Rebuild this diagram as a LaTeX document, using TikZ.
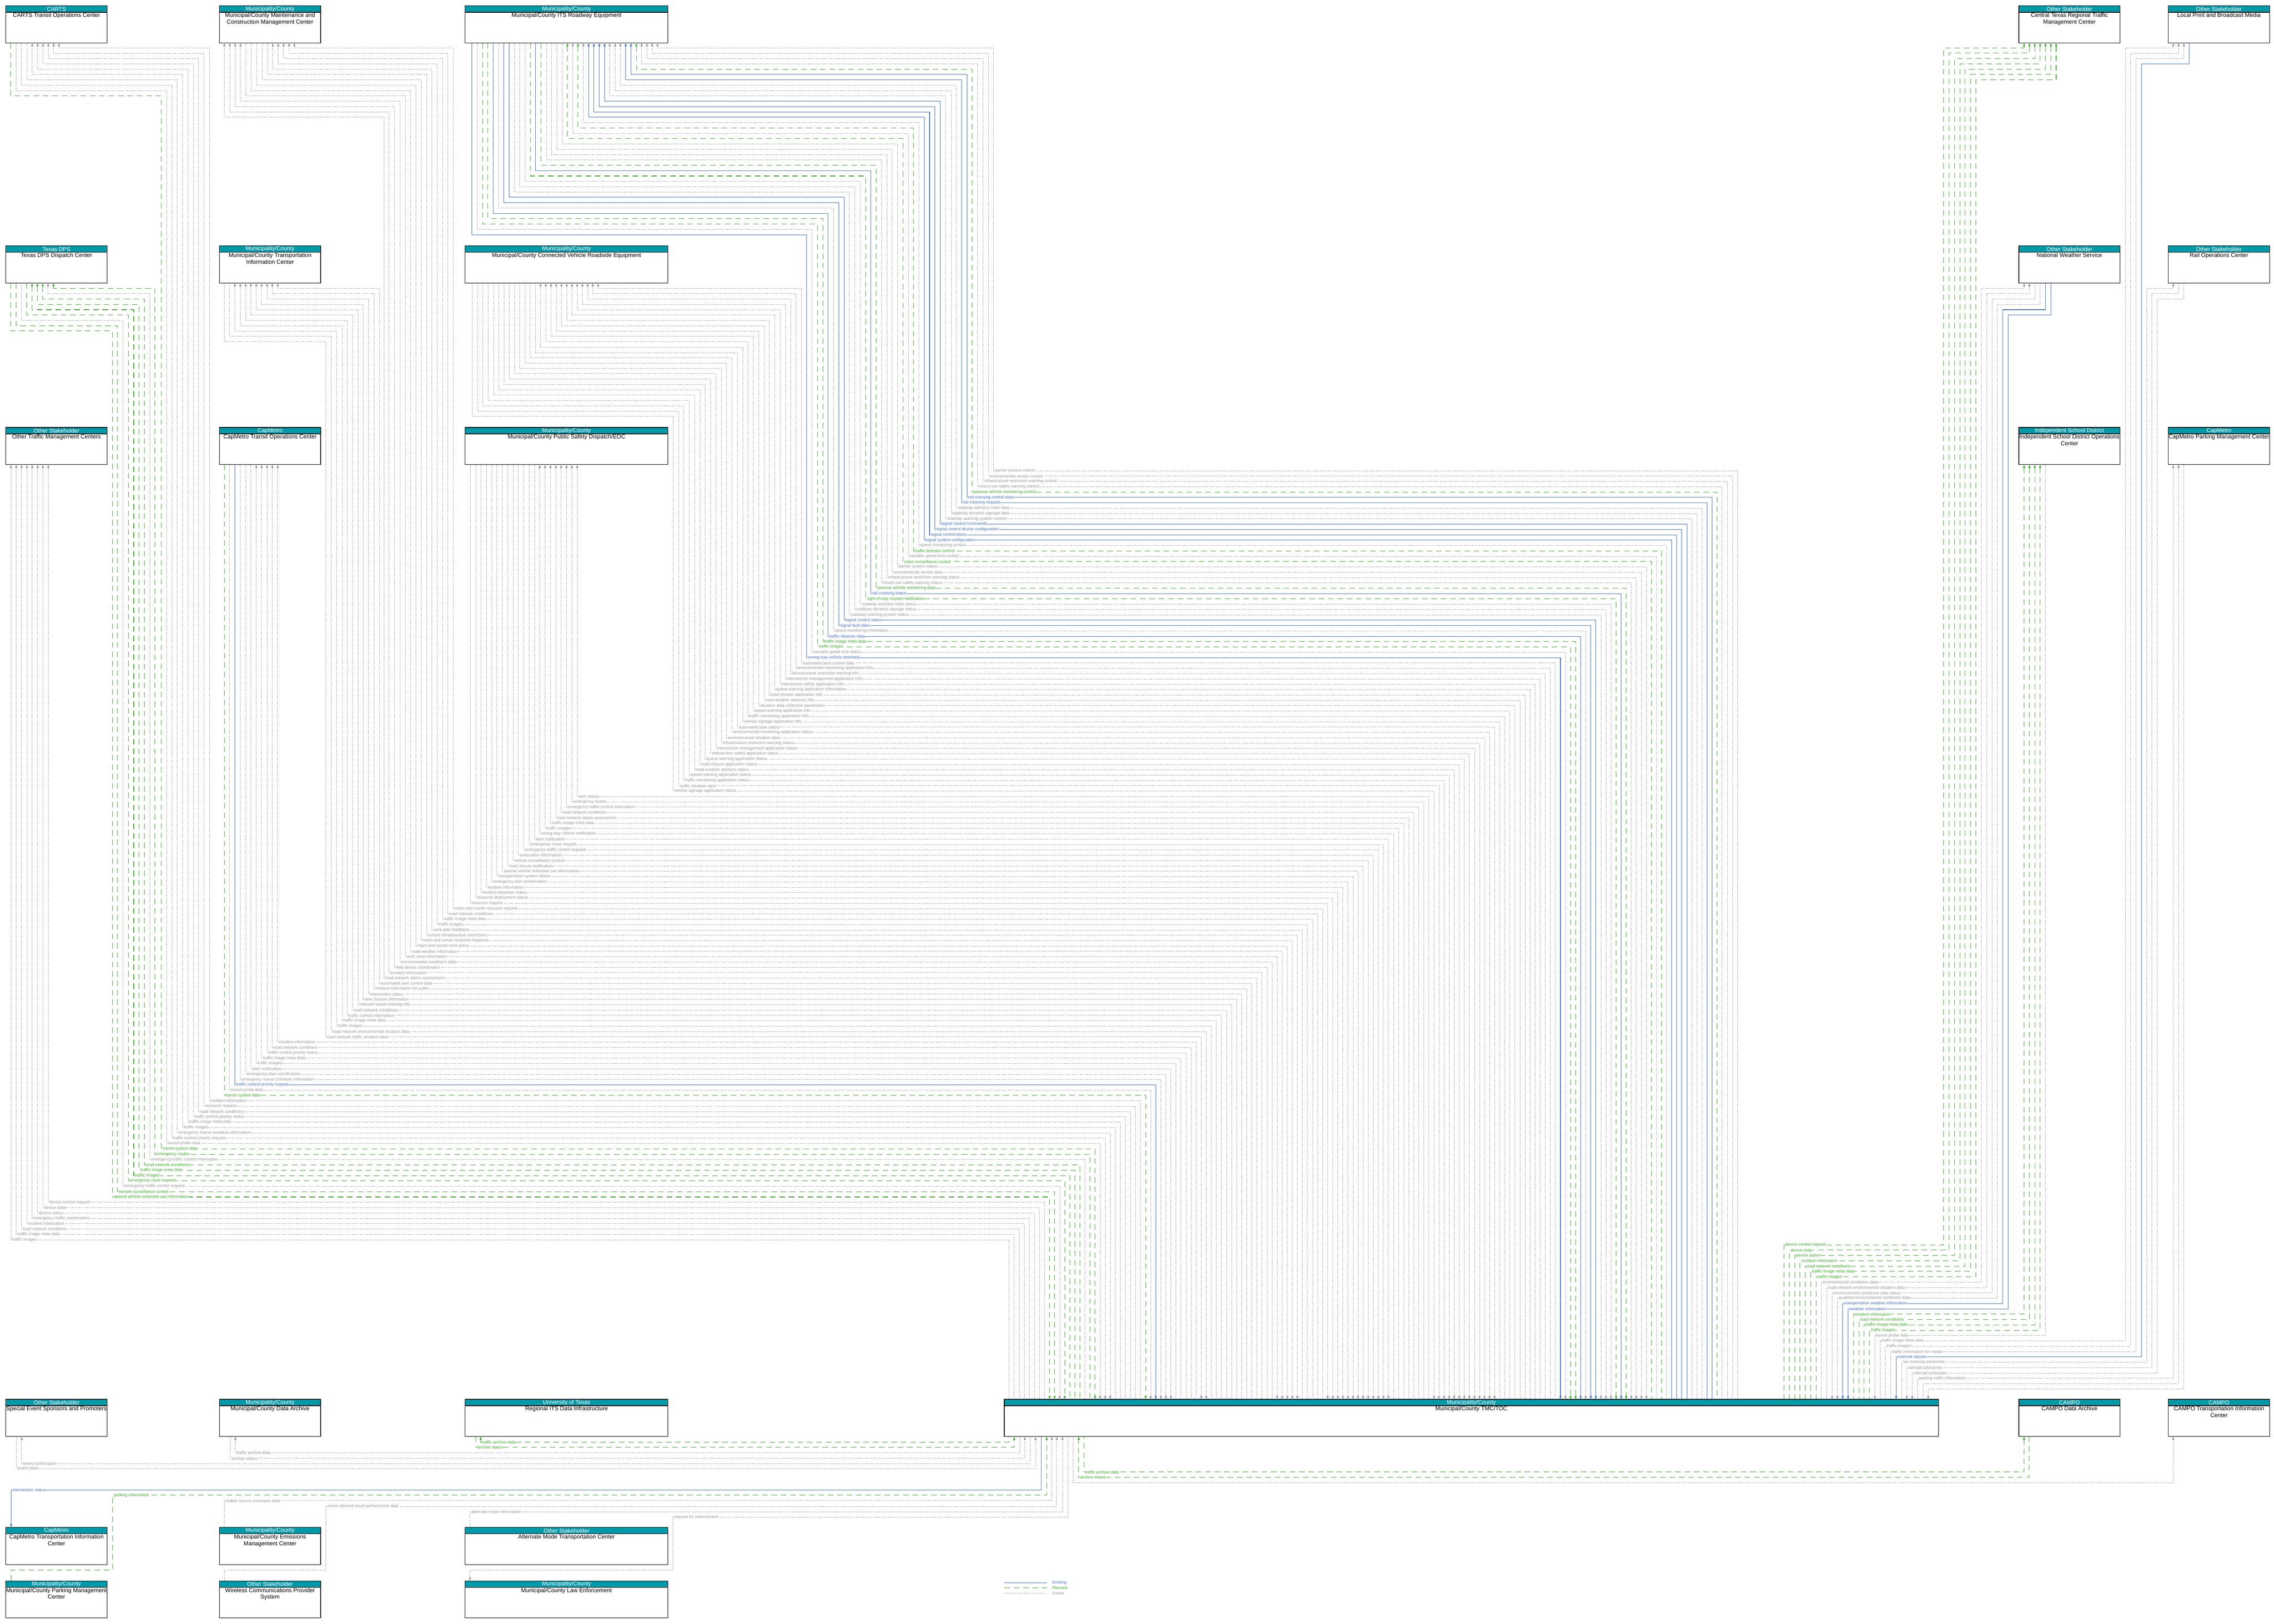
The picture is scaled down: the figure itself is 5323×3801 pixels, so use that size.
\documentclass[tikz,border=0pt]{standalone}
\usepackage{fontspec}
\setmainfont{Liberation Sans}
\usetikzlibrary{arrows.meta}
\definecolor{tealh}{RGB}{0,153,168}
\definecolor{lgreen}{RGB}{58,170,40}
\definecolor{lblue}{RGB}{68,114,196}
\definecolor{lgray}{RGB}{150,150,150}
\tikzset{
 fut/.style={draw=lgray, text=lgray, dash pattern=on 2.5pt off 2.5pt, line width=0.9pt},
 pln/.style={draw=lgreen, text=lgreen, dash pattern=on 13pt off 9pt, line width=1.1pt},
 ext/.style={draw=lblue, text=lblue, line width=1.1pt},
 atmc/.style={-{Triangle[length=7pt,width=5pt]}},
 asrc/.style={{Triangle[length=7pt,width=5pt]}-},
 lab/.style={draw=none, anchor=west, fill=white, inner sep=0.6pt, font=\fontsize{9.7}{11}\selectfont},
 boxbody/.style={draw=black, line width=1.3pt, fill=white, inner sep=0pt, anchor=north west, minimum height=87pt},
 boxhdr/.style={draw=black, line width=1.3pt, fill=tealh, text=white, inner sep=0pt, minimum height=15pt, font=\fontsize{13.2}{15}\selectfont, anchor=north},
 boxtxt/.style={anchor=north, align=flush center, font=\fontsize{13.5}{15.5}\selectfont, inner sep=1pt},
 legt/.style={anchor=west, inner sep=0pt, font=\fontsize{9.5}{11}\selectfont}
}
\newcommand{\mkbox}[6]{%
 \node[boxbody, minimum width=#4pt] (#1) at (#2,#3) {};
 \node[boxhdr, minimum width=#4pt] (#1h) at (#1.north) {#5};
 \node[boxtxt, text width=#4pt] (#1t) at (#1h.south) {#6};
}
% left groups: 1 node, 2 k0, 3 stub x0, 4 stub step, 5 turn y0 (-1 = direct), 6 lane x0, 7 list
\newcommand{\grpL}[7]{%
 \foreach \lab/\sty/\dir [count=\i from 0] in {#7} {
   \pgfmathsetmacro\xs{#3-#4*\i}
   \pgfmathsetmacro\xl{#6-12.5*\i}
   \pgfmathsetmacro\kk{#2+\i}
   \pgfmathsetmacro\yl{1102+12.5*\kk}
   \pgfmathsetmacro\xt{4067-11.84*\kk}
   \pgfmathsetmacro\yo{#5+12.5*\i}
   \ifdim #5pt<0pt
     \draw[\sty,\dir] (\xs,0 |- #1.south) -- (\xs,\yl) -- (\xt,\yl) -- (\xt,0 |- tmc.north);
   \else
     \draw[\sty,\dir] (\xs,0 |- #1.south) -- (\xs,\yo) -- (\xl,\yo) -- (\xl,\yl) -- (\xt,\yl) -- (\xt,0 |- tmc.north);
   \fi
   \node[\sty,lab] (n#1\i) at (\xl+2,\yl) {\lab};
 }}
% right groups: 1 node, 2 r0, 3 stub x0, 4 turn y0 (-1 = direct), 5 lane x0, 6 list
\newcommand{\grpR}[6]{%
 \foreach \lab/\sty/\dir [count=\i from 0] in {#6} {
   \pgfmathsetmacro\xs{#3+12.5*\i}
   \pgfmathsetmacro\xn{#5+12.5*\i}
   \pgfmathsetmacro\rr{#2+\i}
   \pgfmathsetmacro\yl{2914+12.5*\rr}
   \pgfmathsetmacro\xc{4176+12.5*\rr}
   \pgfmathsetmacro\yo{#4+12.5*\i}
   \ifdim #4pt<0pt
     \draw[\sty,\dir] (\xs,0 |- #1.south) -- (\xs,\yl) -- (\xc,\yl) -- (\xc,0 |- tmc.north);
   \else
     \draw[\sty,\dir] (\xs,0 |- #1.south) -- (\xs,\yo) -- (\xn,\yo) -- (\xn,\yl) -- (\xc,\yl) -- (\xc,0 |- tmc.north);
   \fi
   \node[\sty,lab] (r#1\i) at (\xc+2,\yl) {\lab};
 }}
\begin{document}
\begin{tikzpicture}[x=1pt,y=-1pt]
\useasboundingbox[fill=white] (0,0) rectangle (5323,3801);
% ---------- boxes ----------
\mkbox{carts}{13}{13}{237}{CARTS}{CARTS Transit Operations Center}
\mkbox{mcm}{513}{13}{237}{Municipality/County}{Municipal/County Maintenance and Construction Management Center}
\mkbox{itsre}{1088}{13}{475}{Municipality/County}{Municipal/County ITS Roadway Equipment}
\mkbox{ctrtmc}{4725}{13}{237}{Other Stakeholder}{Central Texas Regional Traffic Management Center}
\mkbox{media}{5075}{13}{237}{Other Stakeholder}{Local Print and Broadcast Media}
\mkbox{dps}{13}{575}{237}{Texas DPS}{Texas DPS Dispatch Center}
\mkbox{tic}{513}{575}{237}{Municipality/County}{Municipal/County Transportation Information Center}
\mkbox{cvrse}{1088}{575}{475}{Municipality/County}{Municipal/County Connected Vehicle Roadside Equipment}
\mkbox{nws}{4725}{575}{237}{Other Stakeholder}{National Weather Service}
\mkbox{rail}{5075}{575}{237}{Other Stakeholder}{Rail Operations Center}
\mkbox{otmc}{13}{1000}{237}{Other Stakeholder}{Other Traffic Management Centers}
\mkbox{cmtoc}{513}{1000}{237}{CapMetro}{CapMetro Transit Operations Center}
\mkbox{psd}{1088}{1000}{475}{Municipality/County}{Municipal/County Public Safety Dispatch/EOC}
\mkbox{isd}{4725}{1000}{237}{Independent School District}{Independent School District Operations Center}
\mkbox{cmpark}{5075}{1000}{237}{CapMetro}{CapMetro Parking Management Center}
\mkbox{ses}{13}{3275}{237}{Other Stakeholder}{Special Event Sponsors and Promoters}
\mkbox{mcda}{513}{3275}{237}{Municipality/County}{Municipal/County Data Archive}
\mkbox{rids}{1088}{3275}{475}{University of Texas}{Regional ITS Data Infrastructure}
\mkbox{tmc}{2350}{3275}{2187}{Municipality/County}{Municipal/County TMC/TOC}
\mkbox{campoda}{4725}{3275}{237}{CAMPO}{CAMPO Data Archive}
\mkbox{campotic}{5075}{3275}{237}{CAMPO}{CAMPO Transportation Information Center}
\mkbox{cmtic}{13}{3575}{237}{CapMetro}{CapMetro Transportation Information Center}
\mkbox{emis}{513}{3575}{237}{Municipality/County}{Municipal/County Emissions Management Center}
\mkbox{altm}{1088}{3575}{475}{Other Stakeholder}{Alternate Mode Transportation Center}
\mkbox{mcpark}{13}{3700}{237}{Municipality/County}{Municipal/County Parking Management Center}
\mkbox{wcps}{513}{3700}{237}{Other Stakeholder}{Wireless Communications Provider System}
\mkbox{law}{1088}{3700}{475}{Municipality/County}{Municipal/County Law Enforcement}
% ---------- left flows into TMC top ----------
\grpL{itsre}{0}{1539}{12.4}{112}{2326}{barrier system control/fut/asrc, environmental sensor control/fut/asrc, infrastructure restriction warning control/fut/asrc, mixed use safety warning control/fut/asrc, passive vehicle monitoring control/pln/asrc, rail crossing control data/ext/asrc, rail crossing request/ext/asrc, roadway advisory radio data/fut/asrc, roadway dynamic signage data/fut/asrc, roadway warning system control/fut/asrc, signal control commands/ext/asrc, signal control device configuration/ext/asrc, signal control plans/ext/asrc, signal system configuration/ext/asrc, speed monitoring control/fut/asrc, traffic detector control/pln/asrc, variable speed limit control/fut/asrc, video surveillance control/pln/asrc, barrier system status/fut/atmc, environmental sensor data/fut/atmc, infrastructure restriction warning status/fut/atmc, mixed use safety warning status/fut/atmc, passive vehicle monitoring data/pln/atmc, rail crossing status/ext/atmc, right-of-way request notification/pln/atmc, roadway advisory radio status/fut/atmc, roadway dynamic signage status/fut/atmc, roadway warning system status/fut/atmc, signal control status/ext/atmc, signal fault data/ext/atmc, speed monitoring information/fut/atmc, traffic detector data/ext/atmc, traffic image meta data/pln/atmc, traffic images/pln/atmc, variable speed limit status/fut/atmc, wrong way vehicle detected/ext/atmc}
\grpL{cvrse}{36}{1400}{12.25}{675}{1876}{automated lane control data/fut/asrc, environmental monitoring application info/fut/asrc, infrastructure restriction warning info/fut/asrc, intersection management application info/fut/asrc, intersection safety application info/fut/asrc, queue warning application information/fut/asrc, road closure application info/fut/asrc, road weather advisory info/fut/asrc, situation data collection parameters/fut/asrc, speed warning application info/fut/asrc, traffic monitoring application info/fut/asrc, vehicle signage application info/fut/asrc, automated lane status/fut/atmc, environmental monitoring application status/fut/atmc, environmental situation data/fut/atmc, infrastructure restriction warning status/fut/atmc, intersection management application status/fut/atmc, intersection safety application status/fut/atmc, queue warning application status/fut/atmc, road closure application status/fut/atmc, road weather advisory status/fut/atmc, speed warning application status/fut/atmc, traffic monitoring application status/fut/atmc, traffic situation data/fut/atmc, vehicle signage application status/fut/atmc}
\grpL{psd}{61}{1351}{12.5}{-1}{1351}{alert status/fut/asrc, emergency routes/fut/asrc, emergency traffic control information/fut/asrc, road network conditions/fut/asrc, road network status assessment/fut/asrc, traffic image meta data/fut/asrc, traffic images/fut/asrc, wrong way vehicle notification/fut/asrc, alert notification/fut/atmc, emergency route request/fut/atmc, emergency traffic control request/fut/atmc, evacuation information/fut/atmc, remote surveillance control/fut/atmc, road closure notification/fut/atmc, special vehicle restricted use information/fut/atmc, transportation system status/fut/atmc, emergency plan coordination/fut/atmc, incident information/fut/atmc, incident response status/fut/atmc, resource deployment status/fut/atmc, resource request/fut/atmc}
\grpL{mcm}{82}{689}{12.6}{112}{1061}{maint and constr resource request/fut/asrc, road network conditions/fut/asrc, traffic image meta data/fut/asrc, traffic images/fut/asrc, work plan feedback/fut/asrc, current infrastructure restrictions/fut/atmc, maint and constr resource response/fut/atmc, maint and constr work plans/fut/atmc, road weather information/fut/atmc, work zone information/fut/atmc, environmental conditions data/fut/asrc, field device coordination/fut/asrc, incident information/fut/asrc, road network status assessment/fut/asrc}
\grpL{tic}{96}{650}{12.5}{675}{888}{automated lane control data/fut/asrc, incident information for public/fut/asrc, intersection status/fut/asrc, lane closure information/fut/asrc, reduced speed warning info/fut/asrc, road network conditions/fut/asrc, traffic control information/fut/asrc, traffic image meta data/fut/asrc, traffic images/fut/asrc, road network environmental situation data/fut/atmc, road network traffic situation data/fut/atmc}
\grpL{cmtoc}{107}{650}{12.5}{-1}{650}{incident information/fut/asrc, road network conditions/fut/asrc, traffic control priority status/fut/asrc, traffic image meta data/fut/asrc, traffic images/fut/asrc, alert notification/fut/atmc, emergency plan coordination/fut/atmc, emergency transit schedule information/fut/atmc, traffic control priority request/ext/atmc, transit probe data/fut/atmc, transit system data/pln/atmc}
\grpL{carts}{118}{138}{12.5}{112}{490}{incident information/fut/asrc, resource request/fut/asrc, road network conditions/fut/asrc, traffic control priority status/fut/asrc, traffic image meta data/fut/asrc, traffic images/fut/asrc, emergency transit schedule information/fut/atmc, traffic control priority request/fut/atmc, transit probe data/fut/atmc, transit system data/pln/atmc}
\grpL{dps}{128}{125}{12.5}{675}{363}{emergency routes/pln/asrc, emergency traffic control information/fut/asrc, road network conditions/pln/asrc, traffic image meta data/pln/asrc, traffic images/pln/asrc, emergency route request/pln/atmc, emergency traffic control request/fut/atmc, remote surveillance control/pln/atmc, special vehicle restricted use information/pln/atmc}
\grpL{otmc}{137}{113}{12.5}{-1}{113}{device control request/fut/asrc, device data/fut/asrc, device status/fut/asrc, emergency traffic coordination/fut/asrc, incident information/fut/asrc, road network conditions/fut/asrc, traffic image meta data/fut/asrc, traffic images/fut/asrc}
% ---------- right flows ----------
\grpR{ctrtmc}{0}{4738}{112}{4550}{device control request/pln/asrc, device data/pln/asrc, device status/pln/asrc, incident information/pln/asrc, road network conditions/pln/asrc, traffic image meta data/pln/asrc, traffic images/pln/asrc}
\grpR{nws}{7}{4738}{675}{4638}{environmental conditions data/fut/asrc, road network environmental situation data/fut/asrc, environmental conditions data status/fut/atmc, qualified environmental conditions data/fut/atmc, transportation weather information/ext/atmc, weather information/ext/atmc}
\grpR{isd}{13}{4738}{-1}{4738}{incident information/pln/asrc, road network conditions/pln/asrc, traffic image meta data/pln/asrc, traffic images/pln/asrc, transit probe data/fut/atmc}
\grpR{media}{18}{5087}{112}{4975}{traffic image meta data/fut/asrc, traffic images/fut/asrc, traffic information for media/fut/asrc, external reports/ext/atmc}
\grpR{rail}{22}{5087}{675}{5025}{rail crossing advisories/fut/asrc, railroad advisories/fut/atmc, railroad schedules/fut/atmc}
\grpR{cmpark}{25}{5087}{-1}{5087}{parking traffic information/fut/asrc,/fut/asrc,/fut/atmc}
% ---------- bottom flows ----------
\draw[pln,asrc] (1125,0 |- rids.south) -- (1125,3376) -- (2362,3376) -- (2362,0 |- tmc.south);
\node[pln,lab] (b1) at (1127,3376) {traffic archive data};
\draw[pln,atmc] (1114,0 |- rids.south) -- (1114,3388) -- (2374,3388) -- (2374,0 |- tmc.south);
\node[pln,lab] (b2) at (1116,3388) {archive status};
\draw[fut,asrc] (551,0 |- mcda.south) -- (551,3401) -- (2387,3401) -- (2387,0 |- tmc.south);
\node[fut,lab] (b3) at (553,3401) {traffic archive data};
\draw[fut,atmc] (539,0 |- mcda.south) -- (539,3414) -- (2399,3414) -- (2399,0 |- tmc.south);
\node[fut,lab] (b4) at (541,3414) {archive status};
\draw[fut,asrc] (51,0 |- ses.south) -- (51,3426) -- (2412,3426) -- (2412,0 |- tmc.south);
\node[fut,lab] (b5) at (53,3426) {event confirmation};
\draw[fut,atmc] (39,0 |- ses.south) -- (39,3438) -- (2424,3438) -- (2424,0 |- tmc.south);
\node[fut,lab] (b6) at (41,3438) {event plans};
\draw[ext,asrc] (26,0 |- cmtic.north) -- (26,3488) -- (2437,3488) -- (2437,0 |- tmc.south);
\node[ext,lab] (b7) at (28,3488) {intersection status};
\draw[pln,atmc] (26,0 |- mcpark.north) -- (26,3675) -- (263,3675) -- (263,3500) -- (2450,3500) -- (2450,0 |- tmc.south);
\node[pln,lab] (b8) at (265,3500) {parking information};
\draw[fut,atmc] (525,0 |- emis.north) -- (525,3513) -- (2462,3513) -- (2462,0 |- tmc.south);
\node[fut,lab] (b9) at (527,3513) {mobile source emissions data};
\draw[fut,atmc] (525,0 |- wcps.north) -- (525,3675) -- (763,3675) -- (763,3526) -- (2474,3526) -- (2474,0 |- tmc.south);
\node[fut,lab] (b10) at (765,3526) {comm-derived travel performance data};
\draw[fut,atmc] (1100,0 |- altm.north) -- (1100,3539) -- (2487,3539) -- (2487,0 |- tmc.south);
\node[fut,lab] (b11) at (1102,3539) {alternate mode information};
\draw[fut,asrc] (1100,0 |- law.north) -- (1100,3675) -- (1575,3675) -- (1575,3552) -- (2500,3552) -- (2500,0 |- tmc.south);
\node[fut,lab] (b12) at (1577,3552) {request for enforcement};
\draw[fut,asrc] (5087,0 |- campotic.south) -- (5087,3471) -- (2512,3471) -- (2512,0 |- tmc.south);
\draw[pln,asrc] (4738,0 |- campoda.south) -- (4738,3446) -- (2537,3446) -- (2537,0 |- tmc.south);
\node[pln,lab] (c1) at (2539,3446) {traffic archive data};
\draw[pln,atmc] (4750,0 |- campoda.south) -- (4750,3458) -- (2525,3458) -- (2525,0 |- tmc.south);
\node[pln,lab] (c2) at (2527,3458) {archive status};
% ---------- legend ----------
\coordinate (lg1) at (2351,3705); \coordinate (lg1e) at (2451,3705);
\coordinate (lg2) at (2351,3717); \coordinate (lg2e) at (2451,3717);
\coordinate (lg3) at (2351,3730); \coordinate (lg3e) at (2451,3730);
\draw[ext] (lg1) -- (lg1e);
\draw[pln] (lg2) -- (lg2e);
\draw[fut] (lg3) -- (lg3e);
\node[legt,text=lblue] (le1) at (2463,3705) {Existing};
\node[legt,text=lgreen] (le2) at (2463,3717) {Planned};
\node[legt,text=lgray] (le3) at (2463,3730) {Future};
\end{tikzpicture}
\end{document}
